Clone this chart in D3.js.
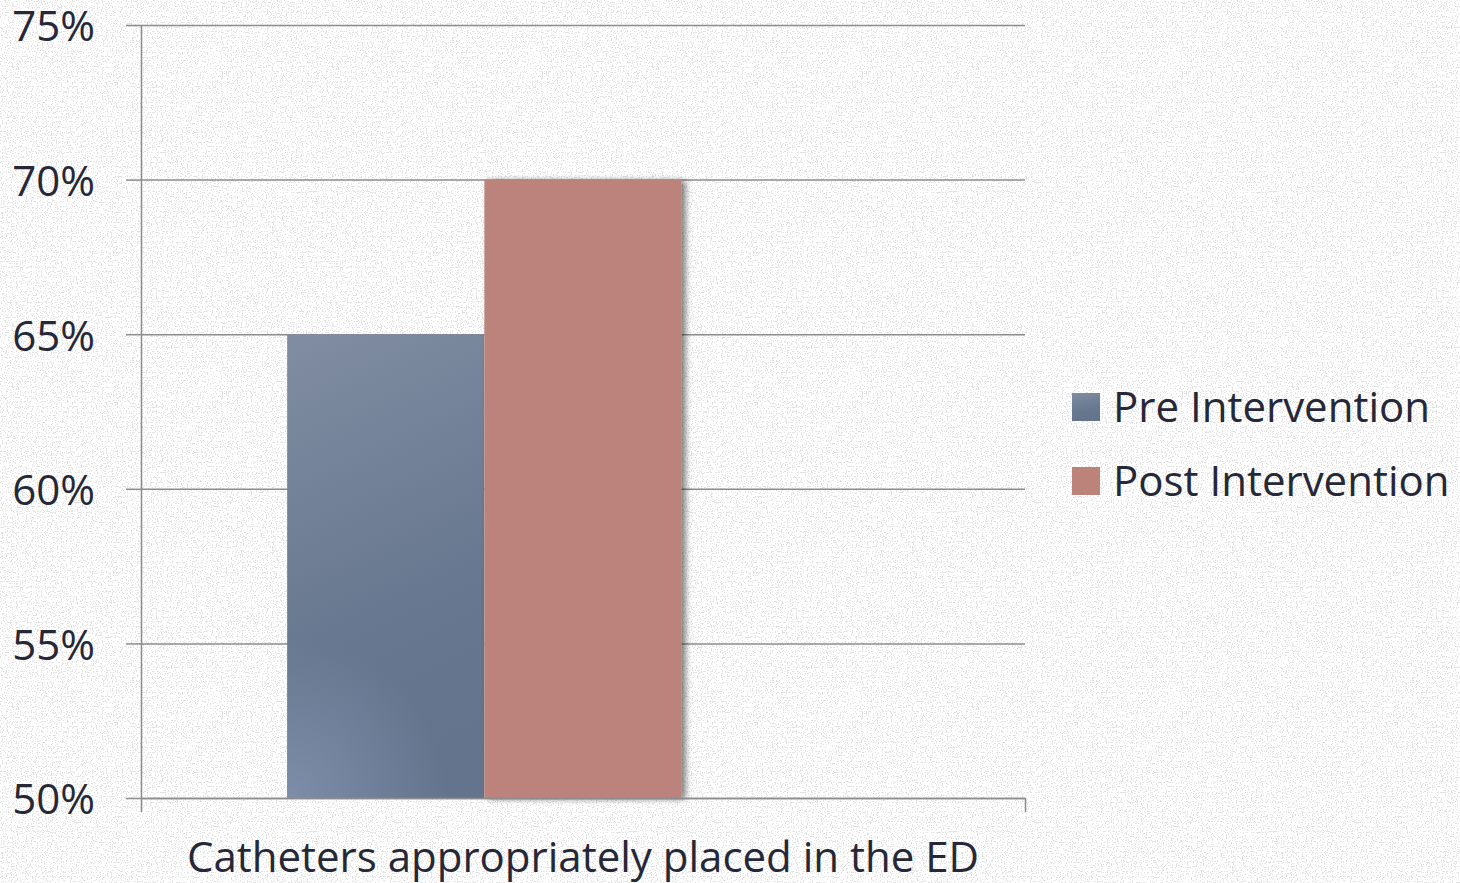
<!DOCTYPE html>
<html>
<head>
<meta charset="utf-8">
<script src="https://cdn.jsdelivr.net/npm/d3@7"></script>
<style>
  body { margin: 0; background: #ffffff; }
  text { font-family: "Open Sans", sans-serif; fill: #262838; }
</style>
</head>
<body>
<svg id="chart"></svg>
<script>
var categories = ["Catheters appropriately placed in the ED"];
var series = ["Pre Intervention", "Post Intervention"];
var values = [0.65, 0.70];
var yTicks = [0.50, 0.55, 0.60, 0.65, 0.70, 0.75];

var dimensions = {
    width: 1460,
    height: 883,
    margin: { top: 25, bottom: 85, left: 141, right: 435 }
};

var svg = d3.select("#chart")
    .attr("width", dimensions.width)
    .attr("height", dimensions.height);

var defs = svg.append("defs");

// speckled paper background
var noise = defs.append("filter").attr("id", "noise")
    .attr("x", 0).attr("y", 0).attr("width", "100%").attr("height", "100%");
noise.append("feTurbulence")
    .attr("type", "fractalNoise")
    .attr("baseFrequency", 0.8)
    .attr("numOctaves", 1)
    .attr("seed", 7);
noise.append("feColorMatrix")
    .attr("type", "matrix")
    .attr("values", "0 0 0 0 0.6  0 0 0 0 0.6  0 0 0 0 0.6  0 0 0 -30 12.6");

var preGrad = defs.append("linearGradient").attr("id", "preGrad")
    .attr("x1", 0).attr("y1", 0).attr("x2", 0.2).attr("y2", 1);
preGrad.append("stop").attr("offset", "0%").attr("stop-color", "#808da2");
preGrad.append("stop").attr("offset", "70%").attr("stop-color", "#67778f");
preGrad.append("stop").attr("offset", "100%").attr("stop-color", "#64748d");

var shadow = defs.append("filter").attr("id", "shadow")
    .attr("x", "-10%").attr("y", "-10%").attr("width", "130%").attr("height", "120%");
shadow.append("feDropShadow")
    .attr("dx", 4).attr("dy", 1).attr("stdDeviation", 3)
    .attr("flood-color", "#000").attr("flood-opacity", 0.5);

svg.append("rect")
    .attr("width", dimensions.width)
    .attr("height", dimensions.height)
    .attr("fill", "#ffffff");
svg.append("rect")
    .attr("width", dimensions.width)
    .attr("height", dimensions.height)
    .attr("filter", "url(#noise)")
    .attr("opacity", 0.55);

var plotLeft = dimensions.margin.left;
var plotRight = dimensions.width - dimensions.margin.right;
var plotBottom = dimensions.height - dimensions.margin.bottom;

var yScale = d3.scaleLinear()
    .domain([0.50, 0.75])
    .range([plotBottom, dimensions.margin.top]);

var x0 = d3.scaleBand()
    .domain(categories)
    .range([plotLeft, plotRight])
    .paddingOuter(0.247);

// Excel kept a third (empty) slot in the cluster
var x1 = d3.scaleBand()
    .domain(series.concat([""]))
    .range([0, x0.bandwidth()]);

var color = d3.scaleOrdinal()
    .domain(series)
    .range(["url(#preGrad)", "#bc837b"]);

// gridlines
svg.append("g")
    .attr("transform", "translate(" + plotLeft + ",0)")
    .call(d3.axisLeft(yScale).tickValues(yTicks).tickSize(-(plotRight - plotLeft)).tickFormat(""))
    .call(function (g) { g.select(".domain").remove(); })
    .call(function (g) {
        g.selectAll("line").attr("stroke", "#8c8c8c").attr("stroke-width", 1.5);
    });

// bars
var rows = series.map(function (s, i) { return { series: s, value: values[i] }; });

var group = svg.append("g")
    .attr("transform", "translate(" + x0(categories[0]) + ",0)");

group.selectAll("rect.bar")
    .data(rows)
    .enter()
    .append("rect")
    .attr("class", "bar")
    .attr("x", function (d) { return x1(d.series); })
    .attr("y", function (d) { return yScale(d.value); })
    .attr("width", x1.bandwidth())
    .attr("height", function (d) { return plotBottom - yScale(d.value); })
    .attr("fill", function (d) { return color(d.series); })
    .attr("filter", function (d, i) { return i === 1 ? "url(#shadow)" : null; });

// lighter sheen in the lower left corner of the first bar
var cornerGrad = defs.append("radialGradient").attr("id", "cornerGrad")
    .attr("gradientUnits", "userSpaceOnUse")
    .attr("cx", x1(series[0])).attr("cy", plotBottom).attr("r", 160);
cornerGrad.append("stop").attr("offset", "0%").attr("stop-color", "#8494b0").attr("stop-opacity", 0.8);
cornerGrad.append("stop").attr("offset", "100%").attr("stop-color", "#8494b0").attr("stop-opacity", 0);

group.append("rect")
    .attr("x", x1(series[0]))
    .attr("y", yScale(values[0]))
    .attr("width", x1.bandwidth())
    .attr("height", plotBottom - yScale(values[0]))
    .attr("fill", "url(#cornerGrad)");

// y axis
svg.append("g")
    .attr("transform", "translate(" + plotLeft + ",0)")
    .call(d3.axisLeft(yScale).tickValues(yTicks).tickSize(15).tickSizeOuter(0).tickPadding(31)
        .tickFormat(d3.format(".0%")))
    .call(function (g) {
        g.select(".domain").attr("stroke", "#8c8c8c").attr("stroke-width", 1.5);
        g.selectAll("line").attr("stroke", "#8c8c8c").attr("stroke-width", 1.5);
        g.selectAll("text")
            .style("font-family", "'Open Sans', sans-serif")
            .attr("font-size", 42)
            .attr("dy", "0.38em")
            .attr("fill", "#262838");
    });

// x axis: base line and boundary ticks
var xEdges = d3.scaleLinear().domain([0, 1]).range([plotLeft, plotRight]);
svg.append("g")
    .attr("transform", "translate(0," + plotBottom + ")")
    .call(d3.axisBottom(xEdges).tickValues([0, 1]).tickSize(14).tickSizeOuter(0).tickFormat(""))
    .call(function (g) {
        g.select(".domain").attr("stroke", "#8c8c8c").attr("stroke-width", 1.5);
        g.selectAll("line").attr("stroke", "#8c8c8c").attr("stroke-width", 1.5);
    });

svg.append("text")
    .attr("x", x0(categories[0]) + x0.bandwidth() / 2)
    .attr("y", 872)
    .attr("text-anchor", "middle")
    .attr("font-size", 42)
    .text(categories[0]);

// legend
var legend = svg.append("g")
    .attr("transform", "translate(1072,393)");

var items = legend.selectAll("g")
    .data(series)
    .enter()
    .append("g")
    .attr("transform", function (d, i) { return "translate(0," + (i * 74) + ")"; });

items.append("rect")
    .attr("width", 28)
    .attr("height", 28)
    .attr("fill", function (d) { return color(d); });

items.append("text")
    .attr("x", 41)
    .attr("y", 29)
    .attr("font-size", 42)
    .text(function (d) { return d; });
</script>
</body>
</html>
